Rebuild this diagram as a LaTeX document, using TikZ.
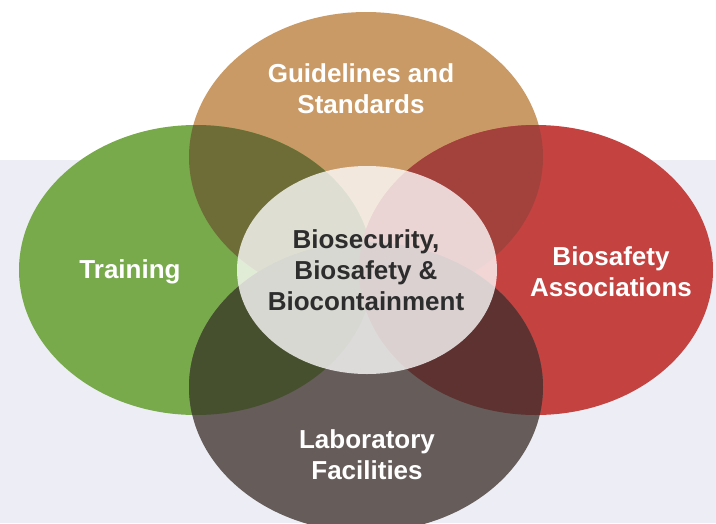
\documentclass[tikz,border=0pt]{standalone}
\usepackage{fontspec}
\setmainfont{Liberation Sans}
\usepackage{tikz}
\usetikzlibrary{positioning, shapes.geometric}
\definecolor{traing}{RGB}{120,170,76}
\definecolor{guidet}{RGB}{202,154,102}
\definecolor{assocr}{RGB}{196,66,64}
\definecolor{facilg}{RGB}{102,92,89}
\definecolor{gtmix}{RGB}{110,109,56}
\definecolor{gamix}{RGB}{163,66,61}
\definecolor{ftmix}{RGB}{70,80,47}
\definecolor{famix}{RGB}{93,50,48}
\definecolor{hubtxt}{RGB}{45,45,45}
\definecolor{bgtint}{RGB}{237,238,245}

\begin{document}
\begin{tikzpicture}[x=1pt, y=-1pt,
          petal/.style={ellipse, inner sep=0pt, minimum width=354pt, minimum height=290pt},
          hub/.style={ellipse, inner sep=0pt, minimum width=260pt, minimum height=208pt,
            fill=white, fill opacity=0.78},
          lbl/.style={text=white, align=center, font=\bfseries\fontsize{26}{31}\selectfont},
          hublbl/.style={lbl, text=hubtxt}]
        \clip (0,0) rectangle (716,523);
        \fill[white] (0,0) rectangle (716,523);
        \fill[bgtint] (0,160) rectangle (716,523);
        % the four petals
        \node[petal, fill=guidet] (guide) at (366,157) {};
        \node[petal, fill=traing] (train) at (196,270) {};
        \node[petal, fill=assocr] (assoc) at (536,270) {};
        \node[petal, fill=facilg] (facil) at (366,387) {};
        % darker where two petals overlap
        \begin{scope}
          \clip (guide.center) ellipse [x radius=177, y radius=145];
          \fill[gtmix] (train.center) ellipse [x radius=177, y radius=145];
          \fill[gamix] (assoc.center) ellipse [x radius=177, y radius=145];
        \end{scope}
        \begin{scope}
          \clip (facil.center) ellipse [x radius=177, y radius=145];
          \fill[ftmix] (train.center) ellipse [x radius=177, y radius=145];
          \fill[famix] (assoc.center) ellipse [x radius=177, y radius=145];
        \end{scope}
        \node[hub] (core) at (367,270) {};
        % labels
        \node[lbl] (guidetxt) at (361,89) {Guidelines and\\Standards};
        \node[lbl] (traintxt) at (130,272) {Training};
        \node[lbl] (assoctxt) at (611,272) {Biosafety\\Associations};
        \node[lbl] (faciltxt) at (367,455) {Laboratory\\Facilities};
        \node[hublbl] (coretxt) at (366,270) {Biosecurity,\\Biosafety \&\\Biocontainment};
      \end{tikzpicture}
\end{document}
